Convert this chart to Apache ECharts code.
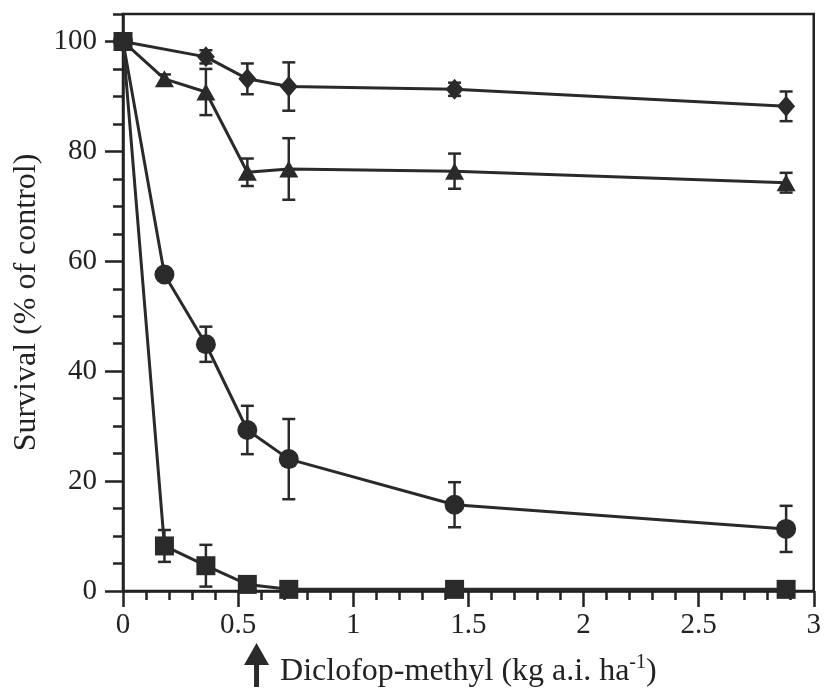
<!DOCTYPE html>
<html>
<head>
<meta charset="utf-8">
<script src="https://cdn.jsdelivr.net/npm/echarts@6/dist/echarts.min.js"></script>
<style>
  html, body { margin: 0; padding: 0; background: #fff; }
  #chart { width: 824px; height: 696px; }
</style>
</head>
<body>
<div id="chart"></div>
<script>
// Diclofop-methyl dose (kg a.i. ha^-1)
const doses = [0, 0.18, 0.36, 0.54, 0.72, 1.44, 2.88];
const diamondDoses = [0, 0.36, 0.54, 0.72, 1.44, 2.88];

// Survival (% of control) and standard errors per population
const diamondSurv = [100, 97.2, 93.2, 91.8, 91.3, 88.2];
const diamondErr  = [0, 1.2, 2.8, 4.4, 1.2, 2.7];

const triangleSurv = [100, 93.2, 90.8, 76.2, 76.8, 76.4, 74.3];
const triangleErr  = [0, 0.8, 4.2, 2.5, 5.6, 3.2, 1.8];

const circleSurv = [100, 57.6, 44.9, 29.3, 24.0, 15.7, 11.3];
const circleErr  = [0, 0.8, 3.2, 4.4, 7.3, 4.1, 4.2];

const squareSurv = [100, 8.2, 4.6, 1.2, 0.3, 0.3, 0.3];
const squareErr  = [0, 2.9, 3.8, 0, 0, 0, 0];

// Axis ticks
const yLabelValues = [0, 20, 40, 60, 80, 100];
const arrowDose = 0.58;

const INK = '#2a2a2a';
const FONT = 'Liberation Serif';

const chart = echarts.init(document.getElementById('chart'), null, { renderer: 'canvas' });

function pairs(xs, ys) { return xs.map((x, i) => [x, ys[i]]); }
function triples(xs, ys, es) { return xs.map((x, i) => [x, ys[i], es[i]]); }

function lineSeries(name, xs, ys, symbol, size) {
  return {
    name, type: 'line', data: pairs(xs, ys),
    symbol, symbolSize: size, showSymbol: true,
    itemStyle: { color: INK },
    lineStyle: { color: INK, width: 3 },
    z: 3, animation: false
  };
}

function errorSeries(xs, ys, es) {
  return {
    type: 'custom', data: triples(xs, ys, es), z: 2, animation: false,
    renderItem(params, api) {
      const err = api.value(2);
      if (!err) return null;
      const x = api.value(0), y = api.value(1);
      const top = api.coord([x, y + err]);
      const bot = api.coord([x, y - err]);
      const hw = 6.5;
      const style = { stroke: INK, lineWidth: 2.5 };
      return {
        type: 'group',
        children: [
          { type: 'line', shape: { x1: top[0], y1: top[1], x2: bot[0], y2: bot[1] }, style },
          { type: 'line', shape: { x1: top[0] - hw, y1: top[1], x2: top[0] + hw, y2: top[1] }, style },
          { type: 'line', shape: { x1: bot[0] - hw, y1: bot[1], x2: bot[0] + hw, y2: bot[1] }, style }
        ]
      };
    }
  };
}

const axisLineStyle = { color: '#222', width: 2.5 };
const tickStyle = { color: '#222', width: 2.5 };
const labelStyle = { fontFamily: FONT, fontSize: 29, color: '#222' };

chart.setOption({
  backgroundColor: '#fff',
  animation: false,
  grid: {
    left: 123, top: 14, right: 9, bottom: 105,
    show: true, borderColor: '#222', borderWidth: 2.5, backgroundColor: 'transparent'
  },
  xAxis: {
    type: 'value', min: 0, max: 3, interval: 0.5,
    name: '{t|Diclofop-methyl (kg a.i. ha}{s|-1}{t|)}',
    nameLocation: 'middle', nameGap: 62,
    nameTextStyle: {
      rich: {
        t: { fontFamily: FONT, fontSize: 32, color: '#222', lineHeight: 35, verticalAlign: 'bottom' },
        s: { fontFamily: FONT, fontSize: 20, color: '#222', lineHeight: 20, verticalAlign: 'top' }
      }
    },
    axisLine: { lineStyle: axisLineStyle },
    axisTick: { length: 16, lineStyle: tickStyle },
    minorTick: { show: true, splitNumber: 5, length: 9, lineStyle: tickStyle },
    axisLabel: Object.assign({ margin: 20, formatter: v => String(v) }, labelStyle),
    splitLine: { show: false }
  },
  yAxis: [
    {
      type: 'value', min: 0, max: 105, interval: 5,
      name: 'Survival (% of control)', nameLocation: 'middle', nameGap: 80,
      nameTextStyle: { fontFamily: FONT, fontSize: 32, color: '#222' },
      axisLine: { lineStyle: axisLineStyle },
      axisTick: { length: 10, lineStyle: tickStyle },
      axisLabel: { show: false },
      splitLine: { show: false }
    },
    {
      type: 'value', min: 0, max: 105, interval: 5, position: 'left', offset: 0,
      axisLine: { show: false },
      axisTick: { show: true, length: 18, customValues: yLabelValues, lineStyle: tickStyle },
      axisLabel: Object.assign({ margin: 26, customValues: yLabelValues }, labelStyle),
      splitLine: { show: false }
    }
  ],
  series: [
    errorSeries(doses, squareSurv, squareErr),
    errorSeries(doses, circleSurv, circleErr),
    errorSeries(doses, triangleSurv, triangleErr),
    errorSeries(diamondDoses, diamondSurv, diamondErr),
    lineSeries('square', doses, squareSurv, 'rect', 19),
    lineSeries('circle', doses, circleSurv, 'circle', 20),
    lineSeries('triangle', doses, triangleSurv, 'triangle', [19, 17]),
    lineSeries('diamond', diamondDoses, diamondSurv, 'diamond', [18, 21])
  ]
});

// Arrow under the dose axis marking the reference rate
const ax = chart.convertToPixel({ xAxisIndex: 0 }, arrowDose);
chart.setOption({
  graphic: [
    {
      type: 'polygon',
      shape: { points: [[ax, 643], [ax - 12.5, 665], [ax + 12.5, 665]] },
      style: { fill: INK }
    },
    {
      type: 'rect',
      shape: { x: ax - 2.5, y: 664, width: 5, height: 23 },
      style: { fill: INK }
    }
  ]
});
</script>
</body>
</html>
